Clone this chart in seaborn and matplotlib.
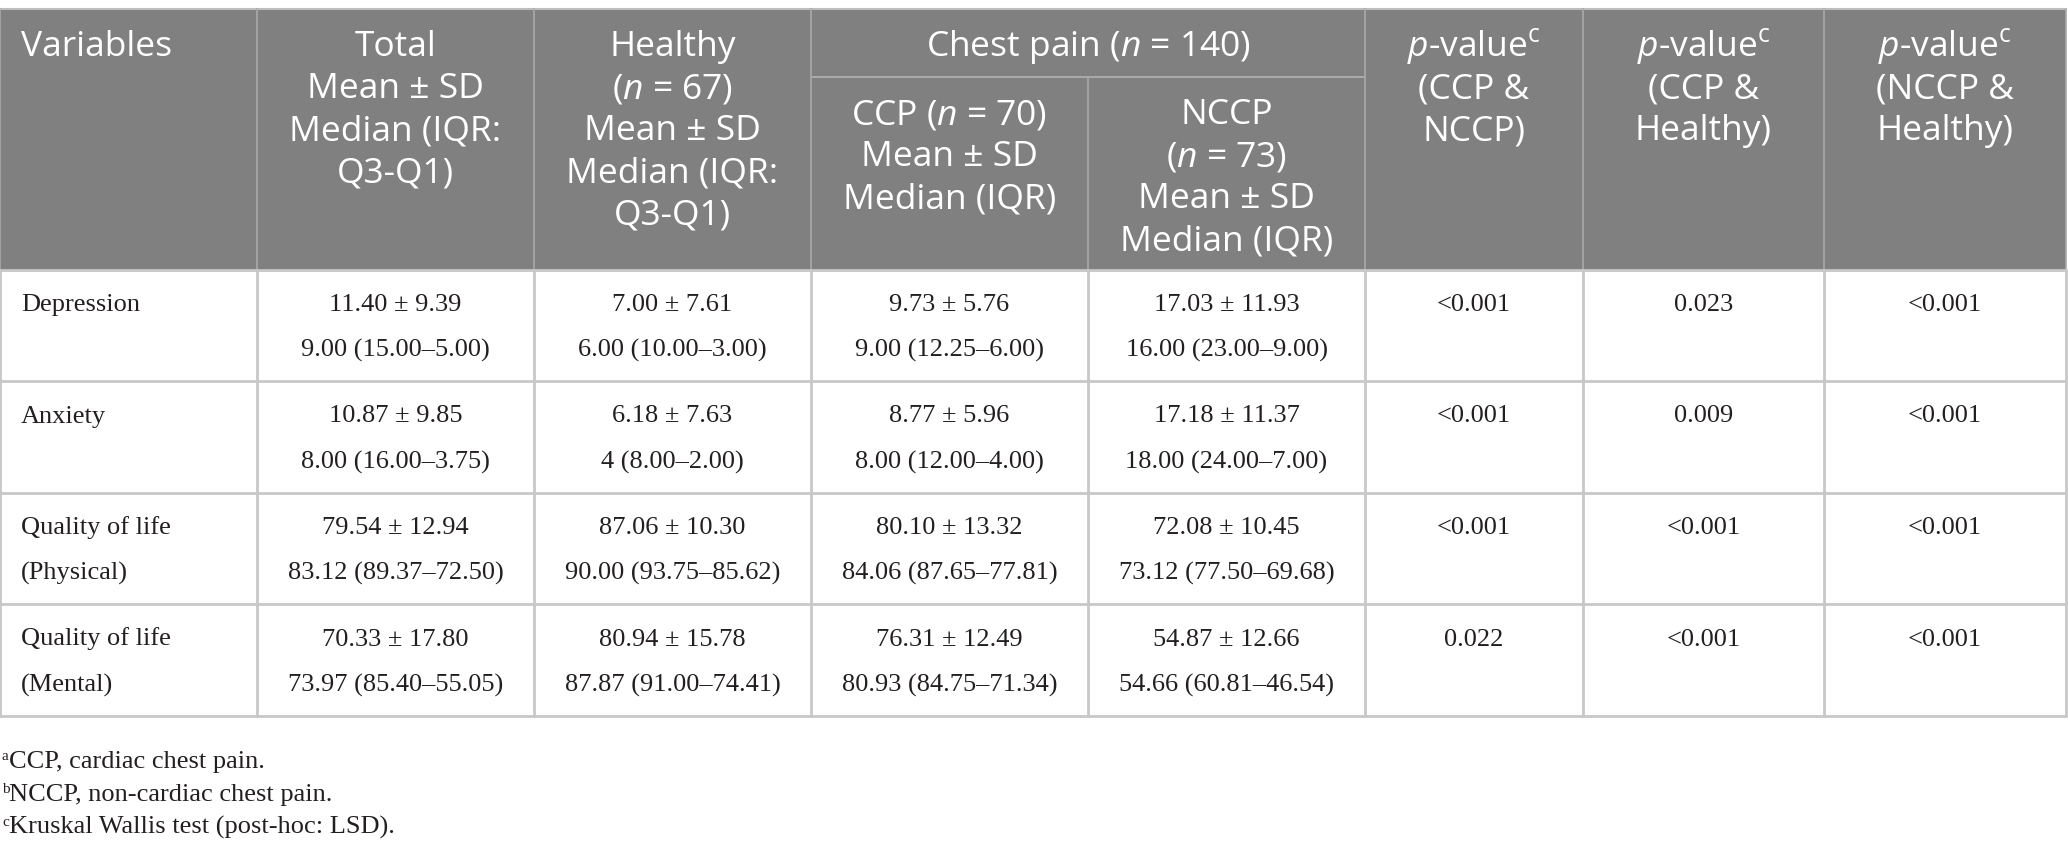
import matplotlib.pyplot as plt
import seaborn as sns

variables = [["Depression"], ["Anxiety"], ["Quality of life", "(Physical)"], ["Quality of life", "(Mental)"]]
total_mean = [11.40, 10.87, 79.54, 70.33]
total_sd = [9.39, 9.85, 12.94, 17.80]
total_median = ["9.00 (15.00–5.00)", "8.00 (16.00–3.75)", "83.12 (89.37–72.50)", "73.97 (85.40–55.05)"]
healthy_mean = [7.00, 6.18, 87.06, 80.94]
healthy_sd = [7.61, 7.63, 10.30, 15.78]
healthy_median = ["6.00 (10.00–3.00)", "4 (8.00–2.00)", "90.00 (93.75–85.62)", "87.87 (91.00–74.41)"]
ccp_mean = [9.73, 8.77, 80.10, 76.31]
ccp_sd = [5.76, 5.96, 13.32, 12.49]
ccp_median = ["9.00 (12.25–6.00)", "8.00 (12.00–4.00)", "84.06 (87.65–77.81)", "80.93 (84.75–71.34)"]
nccp_mean = [17.03, 17.18, 72.08, 54.87]
nccp_sd = [11.93, 11.37, 10.45, 12.66]
nccp_median = ["16.00 (23.00–9.00)", "18.00 (24.00–7.00)", "73.12 (77.50–69.68)", "54.66 (60.81–46.54)"]
p_ccp_nccp = ["<0.001", "<0.001", "<0.001", "0.022"]
p_ccp_healthy = ["0.023", "0.009", "<0.001", "<0.001"]
p_nccp_healthy = ["<0.001", "<0.001", "<0.001", "<0.001"]

header_cols = [
    ["Variables"],
    ["Total", "Mean ± SD", "Median (IQR:", "Q3-Q1)"],
    ["Healthy", "($n$ = 67)", "Mean ± SD", "Median (IQR:", "Q3-Q1)"],
    None,
    None,
    [r"$p$-value$^{\mathrm{c}}$", "(CCP &", "NCCP)"],
    [r"$p$-value$^{\mathrm{c}}$", "(CCP &", "Healthy)"],
    [r"$p$-value$^{\mathrm{c}}$", "(NCCP &", "Healthy)"],
]
group_header = "Chest pain ($n$ = 140)"
sub_headers = [["CCP ($n$ = 70)", "Mean ± SD", "Median (IQR)"],
               ["NCCP", "($n$ = 73)", "Mean ± SD", "Median (IQR)"]]
footnotes = [("a", "CCP, cardiac chest pain."),
             ("b", "NCCP, non-cardiac chest pain."),
             ("c", "Kruskal Wallis test (post-hoc: LSD).")]

# --- layout (pixels) ---
W, H = 2068, 847
col_x = [0, 257, 534, 811, 1088, 1365, 1583, 1824, 2066]
top, sub_y, head_bot = 9, 77, 270
row_h = 111.5
head_bg = "#808080"
head_line = "#a9a9a9"
body_line = "#c8c8c8"
txt = "#231f20"

sns.set_theme(style="white")
plt.rcParams["mathtext.fontset"] = "custom"
plt.rcParams["mathtext.rm"] = "Open Sans"
plt.rcParams["mathtext.it"] = "Open Sans:italic"

fig = plt.figure(figsize=(W / 100, H / 100), dpi=100)
ax = fig.add_axes([0, 0, 1, 1])
ax.set_xlim(0, W)
ax.set_ylim(H, 0)
ax.axis("off")

# header background and lines
ax.add_patch(plt.Rectangle((0, top), col_x[-1], head_bot - top, color=head_bg, lw=0))
ax.plot([0, col_x[-1]], [top, top], color="#bdbdbd", lw=1.5)
for i, x in enumerate(col_x):
    y0 = sub_y if i == 4 else top
    ax.plot([x, x], [y0, head_bot], color=head_line, lw=1.2)
ax.plot([col_x[3], col_x[5]], [sub_y, sub_y], color=head_line, lw=1.5)

hfont = dict(family="Open Sans", fontsize=25.5, color="white")
hstep = 42
for i, lines in enumerate(header_cols):
    if lines is None:
        continue
    for k, s in enumerate(lines):
        if i == 0:
            ax.text(21, 44 + k * hstep + 12, s, ha="left", va="baseline", **hfont)
        else:
            ax.text((col_x[i] + col_x[i + 1]) / 2, 44 + k * hstep + 12, s,
                    ha="center", va="baseline", **hfont)
ax.text((col_x[3] + col_x[5]) / 2, 44 + 12, group_header, ha="center", va="baseline", **hfont)
for j, lines in enumerate(sub_headers):
    cx = (col_x[3 + j] + col_x[4 + j]) / 2
    for k, s in enumerate(lines):
        ax.text(cx, 112 + k * hstep + 12, s, ha="center", va="baseline", **hfont)

# body
bfont = dict(family="Liberation Serif", fontsize=19, color=txt)
n_rows = len(variables)
for r in range(n_rows + 1):
    y = head_bot + r * row_h
    ax.plot([0, col_x[-1]], [y, y], color=body_line, lw=2)
for x in col_x:
    ax.plot([x, x], [head_bot, head_bot + n_rows * row_h], color=body_line, lw=2)

groups = [(total_mean, total_sd, total_median), (healthy_mean, healthy_sd, healthy_median),
          (ccp_mean, ccp_sd, ccp_median), (nccp_mean, nccp_sd, nccp_median)]
pvals = [p_ccp_nccp, p_ccp_healthy, p_nccp_healthy]
l1, l2 = 33, 79
for r in range(n_rows):
    y0 = head_bot + r * row_h
    for k, s in enumerate(variables[r]):
        ax.text(21, y0 + (l1 if k == 0 else l2) + 8, s, ha="left", va="baseline", **bfont)
    for g, (m, sd, med) in enumerate(groups):
        cx = (col_x[g + 1] + col_x[g + 2]) / 2
        ax.text(cx, y0 + l1 + 8, f"{m[r]:.2f} ± {sd[r]:.2f}", ha="center", va="baseline", **bfont)
        ax.text(cx, y0 + l2 + 8, med[r], ha="center", va="baseline", **bfont)
    for j, p in enumerate(pvals):
        cx = (col_x[j + 5] + col_x[j + 6]) / 2
        ax.text(cx, y0 + l1 + 8, p[r], ha="center", va="baseline", **bfont)

# footnotes
for k, (sup, s) in enumerate(footnotes):
    yb = 768 + k * 33
    ax.text(2, yb - 8, sup, ha="left", va="baseline", family="Liberation Serif", fontsize=11, color=txt)
    ax.text(9, yb, s, ha="left", va="baseline", **bfont)

fig.savefig("out.png", dpi=100)
